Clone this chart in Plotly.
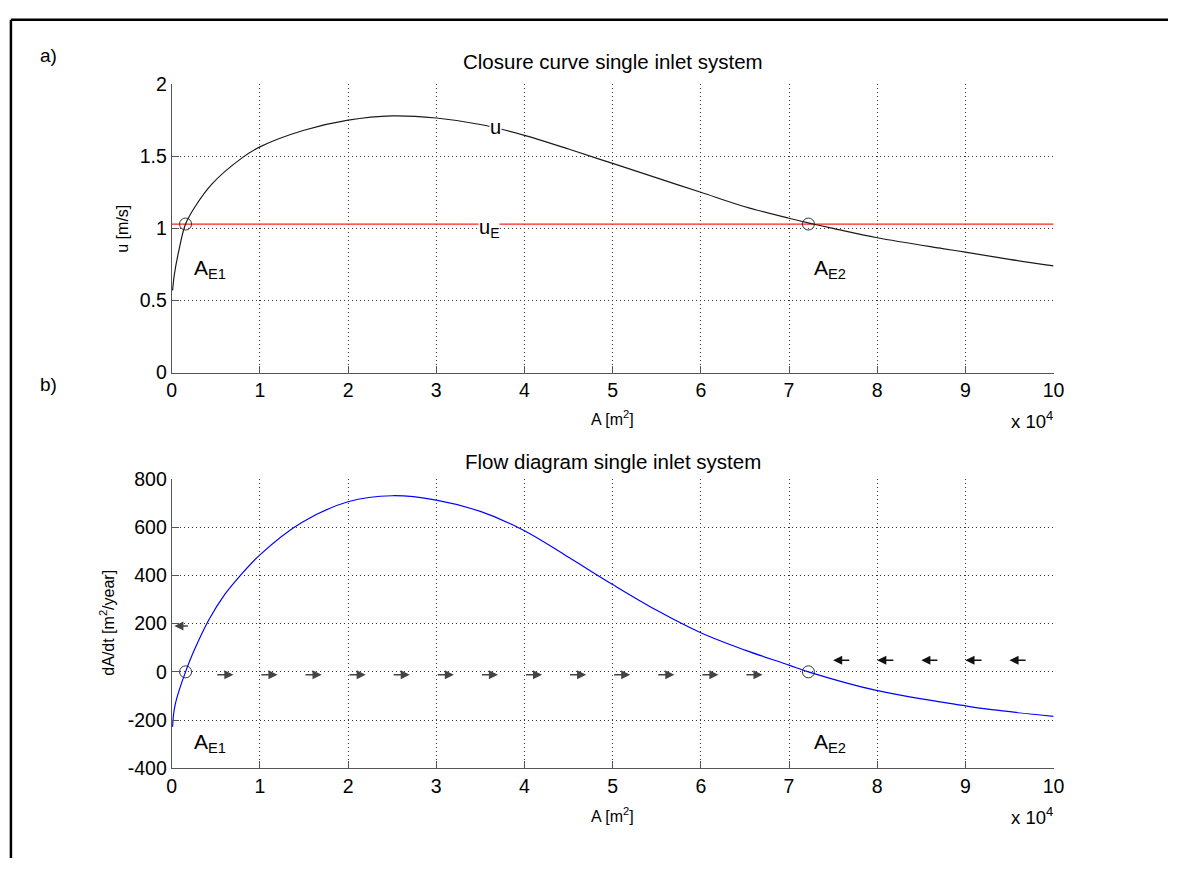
import plotly.graph_objects as go

# ---------------- data (A in m^2) ----------------
A_u = [100, 300, 860, 1570, 2700, 4600, 7900, 10000, 15000, 20000, 25000,
       30000, 35000, 40000, 45000, 50000, 55000, 60000, 65000, 70000, 72400, 75000,
       80000, 87400, 90000, 95000, 100000]
u_vals = [0.57, 0.68, 0.86, 1.03, 1.155, 1.31, 1.485, 1.565, 1.68, 1.75, 1.78,
          1.765, 1.72, 1.645, 1.55, 1.45, 1.35, 1.25, 1.15, 1.07, 1.035, 1.0,
          0.935, 0.86, 0.835, 0.785, 0.74]

uE_A = [0, 100000]
uE_vals = [1.03, 1.03]

A_f = [100, 200, 400, 860, 1570, 2500, 4200, 6000, 7700, 10000, 14700, 20000, 25000,
       30000, 35000, 40000, 45000, 50000, 55000, 60000, 65000, 70000, 72200, 79900,
       90000, 93000, 100000]
dAdt_vals = [-228, -180, -135, -75, 0, 85, 215, 320, 396, 485, 618, 705, 730,
             712, 665, 585, 475, 362, 255, 162, 90, 28, 0, -77,
             -141, -157, -185]

eq_A = [1570, 72200]          # equilibrium areas A_E1, A_E2
eq_u = [1.03, 1.03]
eq_f = [0, 0]

# flow direction arrows (tail A, head A, level)
right_tail = [5000, 10000, 15000, 20000, 25000, 30000, 35000, 40000, 45000, 50000, 55000, 60000, 65000]
right_head = [7000, 12000, 17000, 22000, 27000, 32000, 37000, 42000, 47000, 52000, 57000, 62000, 67000]
right_level = -12
left_tail = [77000, 82000, 87000, 92000, 97000]
left_head = [75000, 80000, 85000, 90000, 95000]
left_level = 48
small_tail = [2000]
small_head = [300]
small_level = 190

x_ticks = [0, 10000, 20000, 30000, 40000, 50000, 60000, 70000, 80000, 90000, 100000]
x_ticktext = ["0", "1", "2", "3", "4", "5", "6", "7", "8", "9", "10"]
u_ticks = [0, 0.5, 1, 1.5, 2]
u_ticktext = ["0", "0.5", "1", "1.5", "2"]
f_ticks = [-400, -200, 0, 200, 400, 600, 800]
f_ticktext = ["-400", "-200", "0", "200", "400", "600", "800"]

# ---------------- figure ----------------
W, H = 1179, 869
FONT = "Liberation Sans, Arial, sans-serif"


def px(x):
    return x / W


def py(y):
    return 1 - y / H


fig = go.Figure()

fig.add_trace(go.Scatter(x=uE_A, y=uE_vals, mode="lines",
                         line=dict(color="#ff2020", width=1.3), xaxis="x", yaxis="y",
                         showlegend=False))
fig.add_trace(go.Scatter(x=A_u, y=u_vals, mode="lines", line_shape="spline",
                         line=dict(color="#1a1a1a", width=1.2), xaxis="x", yaxis="y",
                         showlegend=False))
fig.add_trace(go.Scatter(x=eq_A, y=eq_u, mode="markers",
                         marker=dict(symbol="circle-open", size=12, color="#333",
                                     line=dict(width=1)),
                         xaxis="x", yaxis="y", showlegend=False))

fig.add_trace(go.Scatter(x=A_f, y=dAdt_vals, mode="lines", line_shape="spline",
                         line=dict(color="#0000ff", width=1.2), xaxis="x2", yaxis="y2",
                         showlegend=False))
fig.add_trace(go.Scatter(x=eq_A, y=eq_f, mode="markers",
                         marker=dict(symbol="circle-open", size=12, color="#333",
                                     line=dict(width=1)),
                         xaxis="x2", yaxis="y2", showlegend=False))

axis_common = dict(
    showline=True, linecolor="#555", linewidth=1,
    ticks="inside", ticklen=7, tickcolor="#555",
    showgrid=True, gridcolor="#333", gridwidth=1, griddash="1px,3px",
    zeroline=False, mirror=False,
    tickfont=dict(family=FONT, size=19.5, color="black"),
)

xd = [px(169), px(1063)]
fig.update_layout(
    width=W, height=H,
    margin=dict(l=0, r=0, t=0, b=0),
    paper_bgcolor="white", plot_bgcolor="white",
    showlegend=False,
    xaxis=dict(domain=xd, range=[0, 100000], tickvals=x_ticks, ticktext=x_ticktext,
               anchor="y", **axis_common),
    yaxis=dict(domain=[py(371), py(75)], range=[0, 2], tickvals=u_ticks,
               ticktext=u_ticktext, anchor="x", **axis_common),
    xaxis2=dict(domain=xd, range=[0, 100000], tickvals=x_ticks, ticktext=x_ticktext,
                anchor="y2", **axis_common),
    yaxis2=dict(domain=[py(777), py(480)], range=[-400, 800], tickvals=f_ticks,
                ticktext=f_ticktext, anchor="x2", **axis_common),
)

ann = []


def txt(x, y, text, size, **kw):
    d = dict(x=px(x), y=py(y), xref="paper", yref="paper", text=text, showarrow=False,
             xanchor="center", yanchor="middle",
             font=dict(family=FONT, size=size, color="black"))
    d.update(kw)
    ann.append(d)


# titles and labels
txt(616, 52, "Closure curve single inlet system", 20.5)
txt(616, 462, "Flow diagram single inlet system", 20.5)
txt(44, 46, "a)", 19)
txt(44, 383, "b)", 19)
txt(616, 418, "A [m<sup>2</sup>]", 16)
txt(616, 825, "A [m<sup>2</sup>]", 16)
txt(1064, 420, "x 10<sup>4</sup>", 18.5, xanchor="right")
txt(1064, 826, "x 10<sup>4</sup>", 18.5, xanchor="right")
txt(119, 223, "u [m/s]", 16, textangle=-90)
txt(104, 628, "dA/dt [m<sup>2</sup>/year]", 16, textangle=-90)


# curve labels in data coordinates
def dtxt(xa, ya, x, y, text, size, **kw):
    d = dict(x=x, y=y, xref=xa, yref=ya, text=text, showarrow=False,
             xanchor="center", yanchor="middle",
             font=dict(family=FONT, size=size, color="black"))
    d.update(kw)
    ann.append(d)


dtxt("x", "y", 36700, 1.70, "u", 20, bgcolor="white", borderpad=0)
dtxt("x", "y", 36000, 1.03, "u<sub>E</sub>", 20, bgcolor="white", borderpad=0, yshift=-4)
dtxt("x", "y", 2300, 0.72, "A<sub>E1</sub>", 21, xanchor="left")
dtxt("x", "y", 72600, 0.72, "A<sub>E2</sub>", 21, xanchor="left")
dtxt("x2", "y2", 2300, -295, "A<sub>E1</sub>", 21, xanchor="left")
dtxt("x2", "y2", 72600, -295, "A<sub>E2</sub>", 21, xanchor="left")


# flow arrows
def arrow(t, h, lvl, color):
    ann.append(dict(x=h, y=lvl, ax=t, ay=lvl, xref="x2", yref="y2", axref="x2", ayref="y2",
                    text="", showarrow=True, arrowhead=2, arrowsize=1.4, arrowwidth=1.3,
                    arrowcolor=color, standoff=0, startstandoff=0))


for t, h in zip(right_tail, right_head):
    arrow(t, h, right_level, "#444")
for t, h in zip(left_tail, left_head):
    arrow(t, h, left_level, "#111")
for t, h in zip(small_tail, small_head):
    arrow(t, h, small_level, "#444")

fig.update_layout(annotations=ann)

# outer frame (top and left edges)
fig.update_layout(shapes=[
    dict(type="line", xref="paper", yref="paper", x0=px(6), x1=1.0, y0=py(9), y1=py(9),
         line=dict(color="black", width=2.5)),
    dict(type="line", xref="paper", yref="paper", x0=px(6), x1=px(6), y0=py(9), y1=0,
         line=dict(color="black", width=2.5)),
])

fig.write_html("out.html")
